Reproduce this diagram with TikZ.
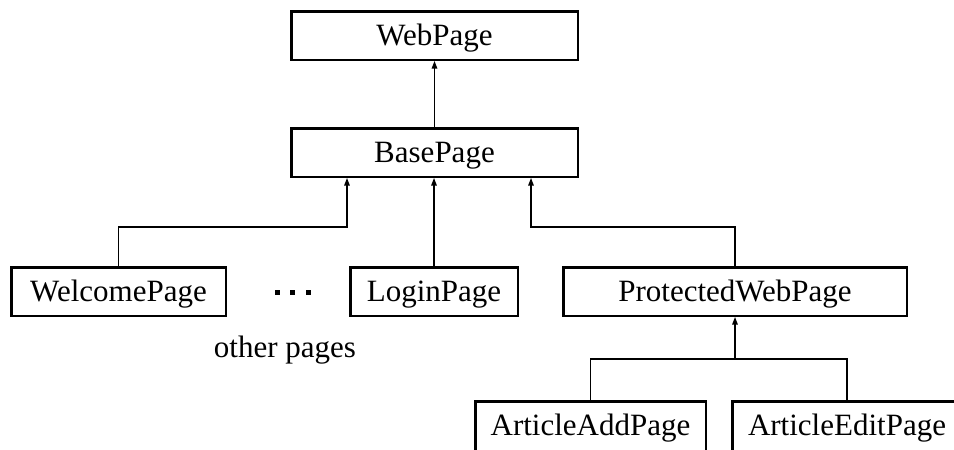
\documentclass[tikz,border=0pt]{standalone}
\usepackage{fontspec}
\setmainfont{Liberation Serif}
\usetikzlibrary{arrows.meta}

\begin{document}
\begin{tikzpicture}[x=1pt,y=-1pt,
  classbox/.style={draw=black, line width=2.5pt, rectangle, anchor=north,
    inner xsep=0pt, inner ysep=9.25pt, text height=24.5pt, text depth=5.5pt,
    font=\fontsize{31}{37}\selectfont},
  openbox/.style={classbox, text depth=20pt},
  link/.style={draw=black, line width=1.2pt},
  inherit/.style={link, -{Triangle[width=5.5pt,length=7.5pt]}},
  caption/.style={font=\fontsize{31}{37}\selectfont, inner sep=0pt}
]
\useasboundingbox (0,0) rectangle (954,450);

% class boxes
\node[classbox, minimum width=286.5pt] (web)       at (434.5,10)  {WebPage};
\node[classbox, minimum width=286.5pt] (base)      at (434.5,127) {BasePage};
\node[classbox, minimum width=214.5pt] (welcome)   at (118.5,266) {WelcomePage};
\node[classbox, minimum width=167.5pt] (login)     at (434,266)   {LoginPage};
\node[classbox, minimum width=343.5pt] (protected) at (735,266)   {ProtectedWebPage};
\node[openbox,  minimum width=230.5pt] (add)       at (590.5,400) {ArticleAddPage};
\node[openbox,  minimum width=229.5pt] (edit)      at (847,400)   {ArticleEditPage};

% ellipsis between the page boxes and its caption
\node[inner sep=0pt] (dots) at (292.5,292)
  {\rule{5pt}{5pt}\hspace{10.5pt}\rule{5pt}{5pt}\hspace{10.5pt}\rule{5pt}{5pt}};
\node[caption, anchor=base] (others) at (285,357) {other pages};

% inheritance connectors
\coordinate (baseL) at ([xshift=-87.5pt]base.south);
\coordinate (baseR) at ([xshift=96.5pt]base.south);
\coordinate (fork)  at (protected.south |- 0,359);

\draw[inherit] (base.north) -- (web.south);
\draw[inherit] (welcome.north) -- (welcome.north |- 0,227) -| (baseL);
\draw[inherit] (login.north) -- (login.north |- base.south);
\draw[inherit] (protected.north) -- (protected.north |- 0,227) -| (baseR);

\draw[link] (add.north) -- (add.north |- fork) -| (edit.north);
\draw[inherit] (fork) -- (protected.south);
\end{tikzpicture}
\end{document}
